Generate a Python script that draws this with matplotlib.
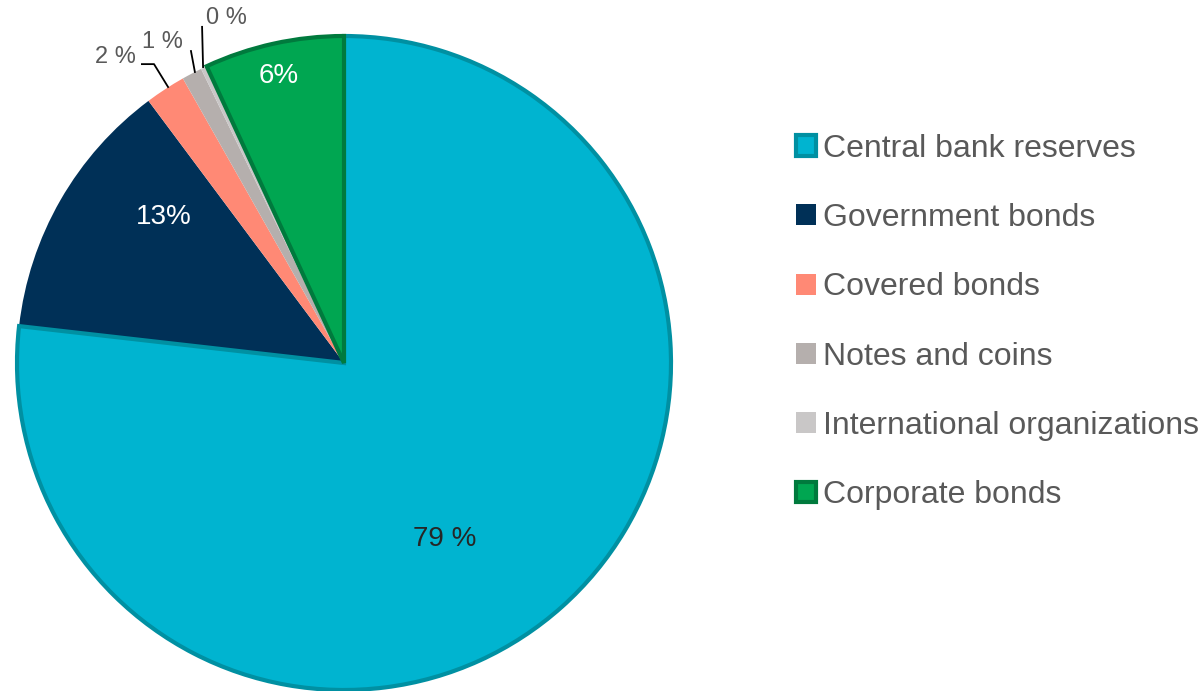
import matplotlib.pyplot as plt
import numpy as np

plt.rcParams['font.family'] = ['Liberation Sans', 'DejaVu Sans']

#%% data
categories = ['Central bank reserves', 'Government bonds', 'Covered bonds',
              'Notes and coins', 'International organizations', 'Corporate bonds']
shares = [76.8, 13.0, 2.0, 1.0, 0.3, 6.9]
label_text = ['79 %', '13%', '2 %', '1 %', '0 %', '6%']

colors = ['#00B4D0', '#003057', '#FF8975', '#B5AFAD', '#C9C7C7', '#00A651']
edge_colors = ['#0090A2', '#003057', '#FF8975', '#B5AFAD', '#C9C7C7', '#007A3D']

#%% figure, axes placed so the pie sits where it should
W, H = 1202, 691
fig = plt.figure(figsize=(W/100, H/100), dpi=100)
cx, cy, R = 344, 363, 327
ax = fig.add_axes([(cx-R)/W, (H-cy-R)/H, 2*R/W, 2*R/H])

wedges, _ = ax.pie(shares, colors=colors, startangle=90, counterclock=False,
                   radius=1, wedgeprops={'linewidth': 0})
# pie resets the limits, so set them afterwards
ax.set_xlim(-1, 1)
ax.set_ylim(-1, 1)
ax.axis('off')

for w, ec in zip(wedges, edge_colors):
    w.set_edgecolor(ec)
# only the first and last slices carry a visible outline
for w in wedges[1:-1]:
    w.set_linewidth(0)
for w in (wedges[0], wedges[-1]):
    w.set_linewidth(3)
    w.set_zorder(3)

#%% labels inside the slices (polar radius / angle in degrees)
inside = {0: (0.62, -60.3, '#262626'), 1: (0.71, 140.9, 'white'), 5: (0.90, 102.9, 'white')}
for i, (r, a, c) in inside.items():
    ax.text(r*np.cos(np.radians(a)), r*np.sin(np.radians(a)), label_text[i],
            ha='center', va='center', fontsize=20, color=c, zorder=5)

# small slices labelled outside with leader lines
outside_pos = {2: (-0.70, 0.936), 3: (-0.554, 0.982), 4: (-0.361, 1.055)}
leaders = {2: ([-0.618, -0.581, -0.538], [0.914, 0.914, 0.844]),
           3: ([-0.468, -0.456], [0.954, 0.890]),
           4: ([-0.434, -0.431], [1.028, 0.905])}
for i, (x, y) in outside_pos.items():
    ax.text(x, y, label_text[i], ha='center', va='center', fontsize=17,
            color='#595959', zorder=5)
    lx, ly = leaders[i]
    ax.plot(lx, ly, color='black', lw=1.3, clip_on=False, zorder=5)

#%% legend
fig.legend(wedges, categories, loc='center left',
           bbox_to_anchor=(796/W, (H-322)/H), frameon=False,
           fontsize=23, labelcolor='#595959', handlelength=0.63,
           handleheight=0.63, handletextpad=0.2, labelspacing=1.23,
           borderpad=0, borderaxespad=0)

fig.savefig('out.png', dpi=100)
